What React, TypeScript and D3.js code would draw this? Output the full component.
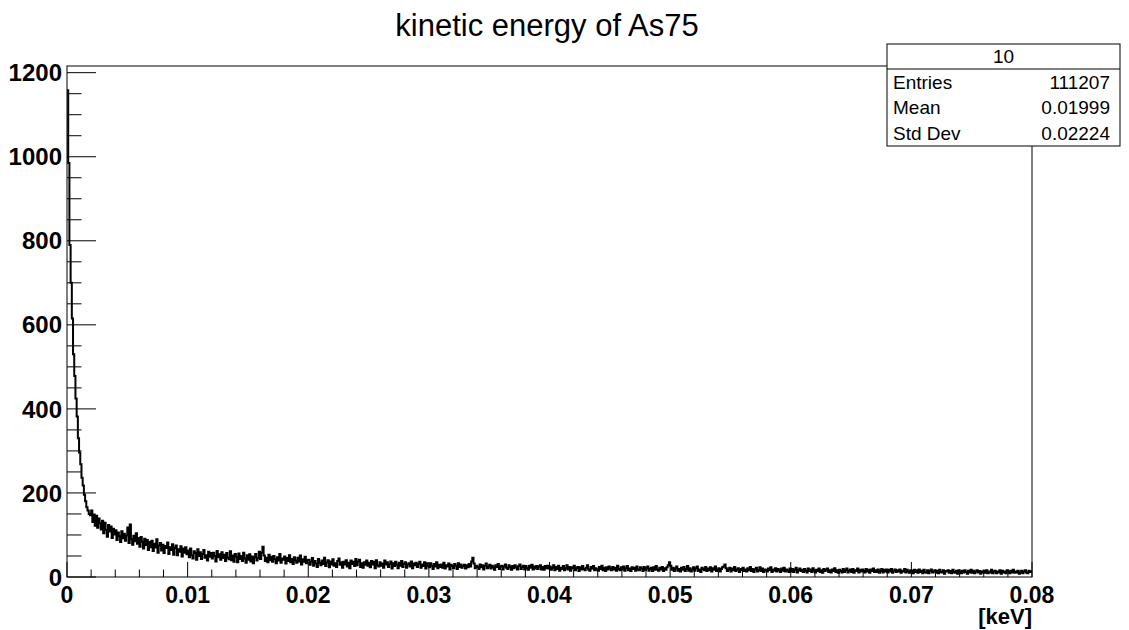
import React from 'react';
import * as d3 from 'd3';

// ---- data (counts per 0.0001 keV bin) ----
const xMinKeV = 0;
const xMaxKeV = 0.08;

const counts00 = [
  1158, 985, 790, 700, 615, 530, 478, 425, 382, 330, 296, 268, 236, 218, 196, 180, 166, 158, 150, 147,
  158, 131, 149, 122, 146, 117, 139, 128, 113, 134,
  104, 129, 112, 96, 124, 108, 120, 93, 115, 101,
  111, 88, 106, 97, 83, 109, 92, 103, 86, 99,
  118, 81, 125, 90, 77, 98, 85, 104, 79, 93,
  72, 95, 84, 68, 91, 76, 88, 64, 83, 71,
  86, 62, 79, 70, 90, 58, 75, 81, 63, 77,
  57, 74, 69, 82, 55, 71, 64, 78, 53, 69,
  75, 52, 66, 60, 73, 49, 68, 58, 71, 54,
];
const counts01 = [
  63, 47, 68, 52, 44, 61, 57, 41, 66, 50,
  59, 43, 55, 64, 46, 52, 39, 60, 48, 57,
  44, 58, 50, 37, 62, 47, 54, 41, 59, 45,
  53, 38, 57, 46, 42, 61, 40, 51, 36, 55,
  48, 35, 56, 43, 50, 38, 58, 44, 34, 52,
  41, 54, 37, 49, 33, 47, 55, 39, 45, 60,
  43, 58, 72, 51, 38, 46, 35, 53, 40, 48,
  36, 50, 42, 33, 47, 39, 55, 34, 44, 41,
  49, 32, 45, 38, 52, 35, 43, 31, 47, 39,
  34, 46, 37, 51, 30, 42, 36, 48, 33, 40,
];
const counts02 = [
  41, 29, 36, 45, 27, 38, 32, 24, 43, 34,
  28, 39, 31, 46, 26, 35, 40, 23, 37, 30,
  42, 27, 33, 24, 38, 44, 29, 35, 22, 36,
  30, 40, 25, 34, 21, 39, 31, 36, 26, 43,
  28, 37, 41, 24, 33, 22, 35, 29, 39, 27,
  34, 23, 38, 30, 36, 21, 40, 28, 25, 35,
  27, 32, 22, 39, 30, 35, 24, 31, 37, 20,
  33, 26, 36, 29, 21, 34, 27, 38, 24, 31,
  35, 22, 30, 33, 25, 37, 21, 32, 28, 34,
  24, 31, 36, 22, 30, 26, 35, 20, 33, 27,
];
const counts03 = [
  23, 33, 27, 19, 31, 25, 35, 21, 29, 24,
  30, 22, 34, 20, 28, 25, 32, 18, 29, 26,
  21, 31, 27, 19, 33, 24, 30, 22, 26, 29,
  20, 28, 23, 31, 25, 37, 46, 32, 21, 27,
  24, 19, 30, 23, 28, 18, 26, 32, 21, 25,
  29, 20, 27, 23, 17, 28, 24, 31, 19, 25,
  27, 18, 25, 30, 22, 19, 28, 24, 17, 26,
  21, 28, 23, 18, 26, 30, 19, 24, 27, 18,
  26, 21, 17, 27, 22, 29, 18, 25, 20, 26,
  19, 25, 28, 18, 24, 17, 26, 21, 27, 20,
];
const counts04 = [
  25, 17, 22, 28, 16, 24, 19, 27, 15, 22,
  19, 26, 16, 21, 28, 18, 24, 15, 23, 20,
  27, 16, 21, 24, 14, 23, 18, 26, 19, 16,
  22, 28, 18, 15, 24, 20, 26, 16, 21, 18,
  15, 24, 19, 27, 16, 22, 14, 23, 18, 25,
  20, 16, 24, 18, 22, 15, 27, 19, 16, 23,
  18, 25, 15, 21, 26, 16, 20, 14, 23, 19,
  22, 15, 25, 18, 16, 23, 20, 14, 24, 17,
  20, 25, 15, 19, 22, 14, 23, 17, 26, 18,
  15, 22, 18, 24, 14, 21, 17, 23, 28, 35,
];
const counts05 = [
  27, 17, 22, 14, 20, 25, 15, 19, 13, 22,
  17, 24, 14, 19, 26, 15, 21, 13, 18, 23,
  15, 21, 25, 14, 18, 12, 22, 19, 16, 24,
  14, 20, 16, 23, 13, 21, 17, 25, 14, 18,
  21, 13, 19, 23, 25, 30, 21, 14, 18, 22,
  13, 20, 16, 24, 14, 18, 21, 12, 19, 16,
  22, 14, 18, 13, 21, 16, 24, 14, 19, 12,
  18, 22, 13, 16, 23, 14, 20, 12, 18, 16,
  13, 20, 16, 23, 12, 18, 15, 21, 13, 19,
  16, 12, 20, 15, 22, 13, 18, 16, 12, 20,
];
const counts06 = [
  13, 19, 12, 17, 22, 11, 16, 20, 14, 17,
  12, 19, 15, 11, 20, 14, 18, 12, 21, 15,
  11, 17, 14, 20, 12, 16, 10, 19, 14, 17,
  20, 12, 16, 11, 18, 14, 21, 12, 16, 10,
  17, 14, 11, 19, 12, 16, 20, 11, 15, 18,
  12, 19, 10, 16, 14, 20, 11, 17, 13, 18,
  15, 11, 19, 13, 17, 10, 18, 14, 20, 12,
  16, 12, 18, 10, 15, 19, 11, 17, 13, 18,
  11, 17, 13, 19, 10, 15, 18, 12, 16, 13,
  18, 10, 15, 13, 19, 11, 17, 13, 10, 16,
];
const counts07 = [
  14, 9, 17, 12, 16, 10, 18, 12, 15, 9,
  17, 12, 10, 16, 9, 14, 18, 11, 13, 16,
  10, 15, 9, 17, 12, 11, 16, 8, 14, 13,
  16, 10, 14, 9, 17, 12, 10, 15, 8, 16,
  13, 9, 15, 11, 16, 12, 8, 15, 11, 17,
  10, 15, 9, 13, 16, 11, 14, 8, 13, 11,
  15, 10, 16, 9, 13, 11, 17, 9, 13, 15,
  9, 13, 11, 16, 8, 15, 11, 13, 9, 16,
  13, 9, 15, 11, 17, 10, 13, 11, 15, 8,
  11, 15, 9, 13, 16, 11, 9, 15, 12, 13,
];

const xTicks = [0, 0.01, 0.02, 0.03, 0.04, 0.05, 0.06, 0.07, 0.08];
const xTickLabels = ['0', '0.01', '0.02', '0.03', '0.04', '0.05', '0.06', '0.07', '0.08'];
const yTicks = [0, 200, 400, 600, 800, 1000, 1200];
const yTickLabels = ['0', '200', '400', '600', '800', '1000', '1200'];

const titleText = 'kinetic energy of As75';
const xAxisTitle = '[keV]';
const statsHeader = '10';
const statsNames = ['Entries', 'Mean', 'Std Dev'];
const statsValues = ['111207', '0.01999', '0.02224'];

const counts = [...counts00, ...counts01, ...counts02, ...counts03, ...counts04, ...counts05, ...counts06, ...counts07];

export default function App() {
  const W = 1129;
  const H = 630;
  const fl = 67, fr = 1032, ft = 66, fb = 577;
  const nBins = counts.length;
  const binW = (xMaxKeV - xMinKeV) / nBins;

  const x = d3.scaleLinear().domain([xMinKeV, xMaxKeV]).range([fl, fr]);
  const yMax = (d3.max(counts) as number) * 1.05;
  const y = d3.scaleLinear().domain([0, yMax]).range([fb, ft]);

  const pts: [number, number][] = [];
  counts.forEach((c, i) => {
    pts.push([xMinKeV + i * binW, c]);
    pts.push([xMinKeV + (i + 1) * binW, c]);
  });
  const line = d3.line<[number, number]>().x(d => x(d[0])).y(d => y(d[1]));
  const pathD = line(pts) || '';

  const xMinor: number[] = [];
  for (let i = 0; i < xTicks.length - 1; i++) {
    const a = xTicks[i], b = xTicks[i + 1];
    for (let k = 1; k < 5; k++) xMinor.push(a + ((b - a) * k) / 5);
  }
  const yMinor: number[] = [];
  for (let i = 0; i < yTicks.length - 1; i++) {
    const a = yTicks[i], b = yTicks[i + 1];
    for (let k = 1; k < 4; k++) yMinor.push(a + ((b - a) * k) / 4);
  }

  const font = '"Liberation Sans", Arial, Helvetica, sans-serif';
  const boxL = 887, boxR = 1120, boxT = 44, boxDiv = 69, boxB = 146;
  const rowH = (boxB - boxDiv) / statsNames.length;

  return (
    <svg width={W} height={H} style={{ position: 'absolute', left: 0, top: 0, background: '#fff' }} fontFamily={font}>
      <rect x={0} y={0} width={W} height={H} fill="#fff" />
      <path d={pathD} fill="none" stroke="#000" strokeWidth={2} />
      <rect x={fl} y={ft} width={fr - fl} height={fb - ft} fill="none" stroke="#000" strokeWidth={1} />
      {yTicks.map(t => (
        <line key={'ym' + t} x1={fl} x2={fl + 29} y1={y(t)} y2={y(t)} stroke="#000" strokeWidth={1} />
      ))}
      {yMinor.map(t => (
        <line key={'yn' + t} x1={fl} x2={fl + 14.5} y1={y(t)} y2={y(t)} stroke="#000" strokeWidth={1} />
      ))}
      {xTicks.map(t => (
        <line key={'xm' + t} x1={x(t)} x2={x(t)} y1={fb} y2={fb - 15} stroke="#000" strokeWidth={1} />
      ))}
      {xMinor.map(t => (
        <line key={'xn' + t} x1={x(t)} x2={x(t)} y1={fb} y2={fb - 7.5} stroke="#000" strokeWidth={1} />
      ))}
      {yTicks.map((t, i) => (
        <text key={'yl' + t} x={fl - 5} y={y(t)} dy="0.36em" textAnchor="end" fontWeight="bold" fontSize={24}>
          {yTickLabels[i]}
        </text>
      ))}
      {xTicks.map((t, i) => (
        <text key={'xl' + t} x={x(t)} y={603} textAnchor="middle" fontWeight="bold" fontSize={23}>
          {xTickLabels[i]}
        </text>
      ))}
      <text x={fr} y={624} textAnchor="end" fontWeight="bold" fontSize={22}>{xAxisTitle}</text>
      <text x={547} y={36} textAnchor="middle" fontSize={31}>{titleText}</text>
      <rect x={boxL} y={boxT} width={boxR - boxL} height={boxB - boxT} fill="#fff" stroke="#000" strokeWidth={1} />
      <line x1={boxL} x2={boxR} y1={boxDiv} y2={boxDiv} stroke="#000" strokeWidth={1} />
      <text x={(boxL + boxR) / 2} y={boxDiv - 6} textAnchor="middle" fontSize={19}>{statsHeader}</text>
      {statsNames.map((n, i) => (
        <text key={n} x={boxL + 6} y={boxDiv + rowH * (i + 0.5)} dy="0.36em" fontSize={19}>{n}</text>
      ))}
      {statsValues.map((v, i) => (
        <text key={'v' + i} x={boxR - 10} y={boxDiv + rowH * (i + 0.5)} dy="0.36em" textAnchor="end" fontSize={19}>{v}</text>
      ))}
    </svg>
  );
}
